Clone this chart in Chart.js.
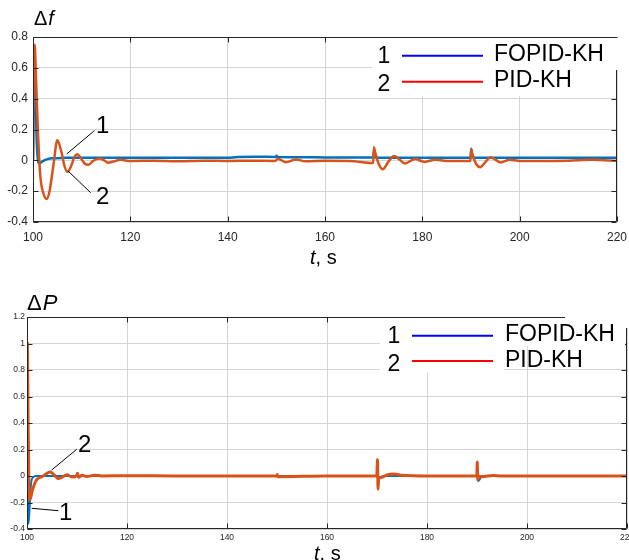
<!DOCTYPE html>
<html><head><meta charset="utf-8">
<script src="https://cdn.jsdelivr.net/npm/chart.js@4/dist/chart.umd.min.js"></script>
<style>
html,body{margin:0;padding:0;background:#fff;width:629px;height:560px;overflow:hidden}
canvas{position:absolute;left:0;display:block}
#c1{top:0}#c2{top:270px}
</style></head><body>
<canvas id="c1" width="629" height="270"></canvas>
<canvas id="c2" width="629" height="290"></canvas>
<script>
// ---- data ----
const seriesNames = ['FOPID-KH', 'PID-KH'];
const seriesNums = ['1', '2'];
const xTicks = [100, 120, 140, 160, 180, 200, 220];
const yTicksF = [-0.4, -0.2, 0, 0.2, 0.4, 0.6, 0.8];
const yTicksP = [-0.4, -0.2, 0, 0.2, 0.4, 0.6, 0.8, 1, 1.2];

// Δf, FOPID-KH
const tF1 = [100,100.15,100.3,100.5,100.8,101.3,101.7,102.3,103,104,106,110,120,130,140,142,146,149.9,150.05,150.3,155,160,169.9,170.05,170.3,171,180,189.9,190.05,190.3,191,200,210,220];
const f1  = [0,0.4,0.68,0.45,0.1,-0.02,-0.012,0.0,0.008,0.013,0.016,0.017,0.017,0.016,0.016,0.022,0.023,0.022,0.03,0.021,0.02,0.019,0.018,0.055,0.02,0.017,0.017,0.017,0.075,0.02,0.016,0.016,0.016,0.016];
// Δf, PID-KH
const tF2 = [100,100.15,100.35,100.6,101,101.5,102.2,102.8,103.4,104.2,105,105.8,106.5,107.1,107.8,108.5,109.1,109.9,110.6,111.4,112.3,113.6,114.6,115.4,116.5,118,120,125,130,135,140,145,149.8,150.3,152,154,156,160,165,169.9,170.05,170.25,171,171.9,173,174.2,175.3,176.4,178.5,180.5,182.6,185,189.9,190.05,190.2,191,191.9,193,194,195,196,198,200,205,210,215,220];
const f2  = [0,0.5,0.75,0.55,0.2,-0.1,-0.22,-0.25,-0.2,-0.03,0.13,0.06,-0.04,-0.075,-0.04,0.02,0.04,0.01,-0.02,-0.028,-0.005,0.012,0.0,-0.015,-0.008,0.003,-0.004,-0.002,-0.006,-0.003,-0.004,-0.003,-0.004,0.01,-0.012,0.006,-0.006,-0.003,-0.004,-0.018,0.085,0.06,-0.02,-0.058,-0.01,0.028,0.005,-0.02,0.008,-0.01,0.004,-0.004,-0.004,0.07,0.05,-0.02,-0.045,-0.01,0.02,0.005,-0.014,0.004,-0.004,-0.004,-0.002,0.003,-0.004];
// ΔP, FOPID-KH
const tP1 = [100,100.05,100.15,100.3,100.5,100.8,101.2,101.8,103,110,140,169.95,170.1,170.25,170.5,172,180,189.95,190.1,190.25,191,200,220];
const P1  = [0,0.6,-0.1,-0.36,-0.25,-0.06,-0.01,0,0,0,0,0,0.05,-0.03,-0.01,0,0,0,0.04,-0.04,0,0,0];
// ΔP, PID-KH
const tP2 = [100,100.08,100.2,100.4,100.6,101,101.5,102,103,103.8,104.6,105.4,106.2,107,108,109,110,110.1,110.3,111,112,113.5,115,120,130,141,150,150.05,150.15,160,169.95,170.1,170.2,170.35,171,172,173.5,175,180,189.95,190.05,190.15,190.3,191,193.2,195,200,210,220];
const P2  = [0,1.0,0.5,-0.1,-0.18,-0.12,-0.06,-0.025,-0.005,0.015,0.03,0.01,-0.02,-0.01,0.01,-0.008,0.005,0.02,-0.01,0.005,-0.004,0.006,0,0.002,0,0,0,0.012,-0.005,0,0,0.125,-0.1,-0.02,-0.01,0.008,0.015,0.005,0,0,0.105,-0.03,0,-0.005,0.004,0,0,0,0];

// ---- helpers ----
const pts = (t, v) => t.map((x, i) => ({x: x, y: v[i]}));
const BLUE = '#0072BD', ORANGE = '#D95319';
const FONT = '"Liberation Sans", Arial, sans-serif';
const fmt = v => String(Math.round(v * 10) / 10);

const framePlugin = {
  id: 'frame',
  beforeDraw(chart) {
    const c = chart.ctx; c.save(); c.fillStyle = '#fff';
    c.fillRect(0, 0, chart.width, chart.height); c.restore();
  },
  afterDatasetsDraw(chart, args, o) {
    const c = chart.ctx, a = chart.chartArea, xs = chart.scales.x, ys = chart.scales.y;
    c.save();
    c.strokeStyle = '#262626'; c.lineWidth = 1;
    const L = Math.round(a.left) + 0.5, R = Math.round(a.right) - 0.5;
    const T = Math.round(a.top) + 0.5, B = Math.round(a.bottom) - 0.5;
    c.beginPath();
    c.moveTo(L, T); c.lineTo(R, T); c.lineTo(R, B); c.lineTo(L, B); c.closePath();
    xs.ticks.forEach(t => {
      const p = Math.round(xs.getPixelForValue(t.value)) + 0.5;
      c.moveTo(p, B); c.lineTo(p, B - o.tl);
      c.moveTo(p, T); c.lineTo(p, T + o.tl);
    });
    ys.ticks.forEach(t => {
      const p = Math.round(ys.getPixelForValue(t.value)) + 0.5;
      c.moveTo(L, p); c.lineTo(L + o.tl, p);
      c.moveTo(R, p); c.lineTo(R - o.tl, p);
    });
    c.stroke();
    c.restore();
  },
  afterDraw(chart, args, o) {
    const c = chart.ctx;
    c.save();
    c.fillStyle = '#fff';
    o.whites.forEach(r => c.fillRect(r[0], r[1], r[2], r[3]));
    const lg = o.legend;
    const cols = ['#0000ff', '#ff0000'];
    for (let i = 0; i < 2; i++) {
      c.strokeStyle = cols[i]; c.lineWidth = 2;
      c.beginPath(); c.moveTo(lg.lx0, lg.ly[i]); c.lineTo(lg.lx1, lg.ly[i]); c.stroke();
      c.fillStyle = '#000'; c.font = '23px ' + FONT; c.textBaseline = 'alphabetic';
      c.textAlign = 'center'; c.fillText(seriesNums[i], lg.nx, lg.nb[i]);
      c.textAlign = 'left'; c.fillText(seriesNames[i], lg.tx, lg.tb[i]);
    }
    c.strokeStyle = '#000'; c.lineWidth = 1;
    o.notes.forEach(n => {
      c.beginPath(); c.moveTo(n.l[0], n.l[1]); c.lineTo(n.l[2], n.l[3]); c.stroke();
      c.fillStyle = '#000'; c.font = '24px ' + FONT; c.textAlign = 'left';
      c.fillText(n.s, n.x, n.y);
    });
    c.fillStyle = '#000'; c.textAlign = 'left';
    const yt = o.ytitle;
    c.font = yt.size + 'px ' + FONT; c.fillText('\u0394', yt.x, yt.y);
    const w = c.measureText('\u0394').width;
    c.font = 'italic ' + yt.size + 'px ' + FONT; c.fillText(yt.s, yt.x + w + 1, yt.y);
    const xt = o.xtitle;
    c.font = 'italic 20px ' + FONT; c.fillText('t', xt.x, xt.y);
    const w2 = c.measureText('t').width;
    c.font = '20px ' + FONT; c.fillText(xt.s, xt.x + w2, xt.y);
    c.restore();
  }
};

function makeChart(id, cfg) {
  return new Chart(document.getElementById(id), {
    type: 'scatter',
    data: {
      datasets: [
        {label: seriesNames[1], data: pts(cfg.t2, cfg.v2), borderColor: ORANGE, backgroundColor: ORANGE,
         showLine: true, pointRadius: 0, borderWidth: cfg.w2, cubicInterpolationMode: 'monotone', order: 0},
        {label: seriesNames[0], data: pts(cfg.t1, cfg.v1), borderColor: BLUE, backgroundColor: BLUE,
         showLine: true, pointRadius: 0, borderWidth: cfg.w1, cubicInterpolationMode: 'monotone', order: 1}
      ]
    },
    options: {
      responsive: false, animation: false, devicePixelRatio: 1,
      layout: {padding: cfg.pad},
      plugins: {legend: {display: false}, tooltip: {enabled: false}, frame: cfg.frame},
      scales: {
        x: {
          type: 'linear', min: 100, max: 220,
          afterBuildTicks: s => { s.ticks = xTicks.map(v => ({value: v})); },
          afterFit: s => { s.height = cfg.xh; s.paddingLeft = 0; s.paddingRight = 0; },
          grid: {color: '#d6d6d6', lineWidth: 1, drawTicks: false},
          border: {display: false},
          ticks: {padding: cfg.xpad, color: '#262626', font: {family: FONT, size: cfg.fs}, maxRotation: 0, autoSkip: false,
                  callback: v => fmt(v)}
        },
        y: {
          min: cfg.ymin, max: cfg.ymax,
          afterBuildTicks: s => { s.ticks = cfg.yt.map(v => ({value: v})); },
          afterFit: s => { s.width = cfg.yw; s.paddingTop = 0; s.paddingBottom = 0; },
          grid: {color: '#d6d6d6', lineWidth: 1, drawTicks: false},
          border: {display: false},
          ticks: {padding: cfg.ypad, color: '#262626', font: {family: FONT, size: cfg.fs}, autoSkip: false,
                  callback: v => fmt(v)}
        }
      }
    },
    plugins: [framePlugin]
  });
}

makeChart('c1', {
  t1: tF1, v1: f1, t2: tF2, v2: f2, w1: 2.5, w2: 2.5,
  pad: {left: 0, right: 12, top: 37, bottom: 0}, xh: 48, yw: 33, xpad: 8, ypad: 5, fs: 12,
  ymin: -0.4, ymax: 0.8, yt: yTicksF,
  frame: {
    tl: 5,
    whites: [[372, 38, 248, 32], [372, 70, 243, 26]],
    legend: {lx0: 402, lx1: 483, ly: [55.7, 81.7], nx: 384, nb: [63, 90.5], tx: 494, tb: [60.7, 87.3]},
    notes: [
      {s: '1', x: 96, y: 133, l: [94.3, 130.7, 66.7, 154]},
      {s: '2', x: 96, y: 204, l: [67.7, 170.7, 90.7, 192.7]}
    ],
    ytitle: {x: 34, y: 25, size: 20, s: 'f'},
    xtitle: {x: 310, y: 264, s: ', s'}
  }
});

makeChart('c2', {
  t1: tP1, v1: P1, t2: tP2, v2: P2, w1: 2, w2: 3,
  pad: {left: 0, right: 2, top: 47, bottom: 0}, xh: 31, yw: 27, xpad: 4, ypad: 2, fs: 8.5,
  ymin: -0.4, ymax: 1.2, yt: yTicksP,
  frame: {
    tl: 5,
    whites: [[565, 42, 64, 16], [380, 48, 245, 28], [380, 74, 124, 28]],
    legend: {lx0: 412, lx1: 493, ly: [65.7, 91], nx: 394, nb: [73.3, 100.7], tx: 505, tb: [70.7, 97.3]},
    notes: [
      {s: '2', x: 78, y: 182, l: [76.7, 179.3, 51.7, 200]},
      {s: '1', x: 59, y: 250, l: [58.3, 240.7, 31.7, 238.3]}
    ],
    ytitle: {x: 27, y: 40, size: 22, s: 'P'},
    xtitle: {x: 314, y: 290, s: '. s'}
  }
});
</script>
</body></html>
